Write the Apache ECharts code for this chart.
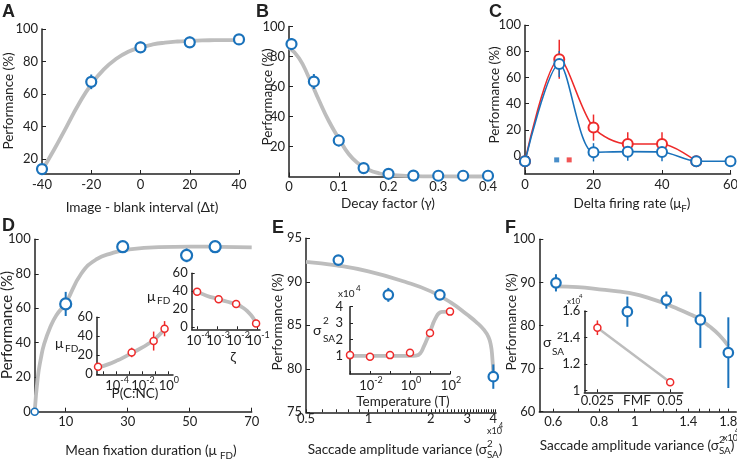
<!DOCTYPE html>
<html><head><meta charset="utf-8">
<script src="https://cdn.jsdelivr.net/npm/echarts@6/dist/echarts.min.js"></script>
<style>html,body{margin:0;padding:0;background:#fff}#c{width:737px;height:466px}</style>
</head><body><div id="c"></div>
<script>
// ---------- DATA ----------
// Panel A
const aX = [-40, -20, 0, 20, 40];
const aY = [13.8, 67.5, 88.7, 91.8, 93.6];
const aErr = [2.5, 4.5, 3.5, 3.5, 2.5];
const aFitX = [-40, -35, -30, -25, -20, -15, -10, -5, 0, 5, 10, 15, 20, 25, 30, 35, 40];
const aFitY = [13, 26, 40, 54, 66, 75, 81.5, 86, 88.7, 90.5, 91.6, 92.3, 92.7, 93, 93.1, 93.2, 93.2];
// Panel B
const bX = [0.005, 0.05, 0.1, 0.15, 0.2, 0.25, 0.3, 0.35, 0.4];
const bY = [88.3, 63.3, 24, 5.6, 1.8, 0.6, 0.5, 0.5, 0.5];
const bErr = [4, 5, 4, 1, 0.5, 0, 0, 0, 0];
const bFitX = [0, 0.02, 0.04, 0.06, 0.08, 0.1, 0.12, 0.14, 0.16, 0.18, 0.2, 0.25, 0.3, 0.4];
const bFitY = [86, 79, 66, 51, 37, 25.5, 15, 8.5, 4.5, 2.2, 1, 0.3, 0.1, 0];
// Panel C
const cX = [0, 10, 20, 30, 40, 50, 60];
const cBlue = [-4, 70.4, 2.8, 3.3, 3, -4, -4];
const cBlueErr = [0, 10, 7, 7, 7, 0, 0];
const cRedX = [0, 10, 20, 30, 40, 50];
const cRed = [-4, 74, 21.7, 9.2, 9.2, -4];
const cRedErr = [0, 15, 10, 9, 9, 0];
const cMarkX = [9.25, 12.9];
const cMarkY = [-3, -3];
// Panel D
const dX = [0, 10, 28.4, 49, 58.2];
const dY = [0, 62.5, 95.7, 90.7, 95.7];
const dErr = [0, 7, 1.5, 4, 1];
const dFitX = [0, 1, 2, 3, 5, 7, 10, 15, 20, 25, 30, 40, 50, 60, 70];
const dFitY = [0, 20, 31, 39, 49, 56, 63, 80, 88.5, 92, 94, 95.5, 95.8, 95.6, 95.3];
// Panel D inset 1 (P(C:NC))
const d1X = [4e-6, 1.6e-3, 0.08, 0.56];
const d1Y = [8, 23, 35, 48];
const d1Err = [1.5, 5, 10, 8];
const d1FitX = [4e-6, 3e-5, 1e-4, 3e-4, 1.5e-3, 1e-2, 3e-2, 8e-2, 0.2, 0.56];
const d1FitY = [7, 11, 14, 17, 22, 28, 32, 36, 41, 47];
// Panel D inset 2 (zeta)
const d2X = [1e-4, 1.2e-3, 9e-3, 9e-2];
const d2Y = [39.4, 31, 25.7, 4];
const d2FitX = [1e-4, 3e-4, 1e-3, 3e-3, 1e-2, 2e-2, 3.5e-2, 6e-2, 9e-2];
const d2FitY = [39.5, 35, 31.5, 28.5, 25, 21.5, 17, 11, 4];
// Panel E (x in units of 1e4)
const eX = [0.716, 1.247, 2.21, 4.0];
const eY = [92.5, 88.5, 88.5, 79.1];
const eErr = [0.3, 0.8, 0.3, 1.4];
const eFitX = [0.5, 0.7, 1, 1.5, 2, 2.5, 3, 3.3, 3.6, 3.8, 3.9, 3.95, 4.0];
const eFitY = [92.3, 91.9, 91.2, 90.0, 88.9, 87.6, 86.2, 85.4, 84.5, 83.6, 82.6, 81.5, 79.5];
// Panel E inset (temperature)
const eiX = [1e-3, 1e-2, 1e-1, 1, 10, 100];
const eiY = [1.05, 0.95, 1.05, 1.2, 2.4, 3.7];
const eiFitX = [1e-3, 1e-2, 0.1, 1, 2, 3.2, 5, 7, 10, 14, 20, 28, 40, 100];
const eiFitY = [1, 1, 1, 1, 1.02, 1.15, 1.6, 2.0, 2.45, 2.95, 3.35, 3.6, 3.68, 3.7];
// Panel F (x in units of 1e4)
const fX = [0.61, 0.955, 1.22, 1.51, 1.8];
const fY = [89.9, 83.2, 85.9, 81.3, 73.7];
const fErr = [2, 3.5, 2, 6.5, 8.2];
const fFitX = [0.61, 0.7, 0.8, 0.9, 1, 1.1, 1.2, 1.3, 1.4, 1.5, 1.6, 1.7, 1.8];
const fFitY = [89.1, 88.9, 88.4, 87.9, 87.3, 86.3, 85.2, 84.0, 82.8, 81.5, 79.8, 77.8, 75.3];
// Panel F inset (FMF)
const fiX = [0.025, 0.05];
const fiY = [1.474, 1.063];
const fiErr = [0.055, 0.025];
// tick labels
const eTickLabels = [0.5, 1, 2, 3, 4];
const eMinorTicks = [0.5,0.6,0.7,0.8,0.9,1,1.1,1.2,1.3,1.4,1.5,1.6,1.7,1.8,1.9,2,2.1,2.2,2.3,2.4,2.5,2.6,2.7,2.8,2.9,3,3.1,3.2,3.3,3.4,3.5,3.6,3.7,3.8,3.9,4,4.1];
const fTickLabels = [0.6, 0.8, 1, 1.4, 1.8];
const fMinorTicks = [0.6,0.7,0.8,0.9,1,1.1,1.2,1.3,1.4,1.5,1.6,1.7,1.8,1.9];
const d1Exps = [-4, -2, 0];
const d2Exps = [-4, -3, -2, -1];
const eiExps = [-2, 0, 2];

// ---------- STYLE ----------
const FONT = 'Lato';
const INK = '#222';
const BLUE = '#1a72bb';
const RED = '#ee2a2a';
const GRAY = '#bdbdbd';
const L = Math.log10;
const ID = v => v;

const ctx = document.createElement('canvas').getContext('2d');
function measure(t, size) { ctx.font = size + 'px ' + FONT; return ctx.measureText(t).width; }
function txt(x, y, t, size, extra) {
  return { type: 'text', x: x, y: y, silent: true,
    style: Object.assign({ text: t, fontSize: size, fontFamily: FONT, fill: INK, align: 'left', verticalAlign: 'middle' }, extra || {}) };
}
function mathLabel(x, y, parts, size, align) {
  const small = size * 0.72;
  const widths = parts.map(p => p.t != null ? measure(p.t, size) :
    Math.max(p.sup ? measure(p.sup, small) : 0, p.sub ? measure(p.sub, small) : 0));
  const total = widths.reduce((a, b) => a + b, 0);
  let cx = align === 'center' ? x - total / 2 : x;
  const els = [];
  parts.forEach((p, i) => {
    if (p.t != null) els.push(txt(cx, y, p.t, size));
    else {
      if (p.sup) els.push(txt(cx, y - size * 0.42, p.sup, small));
      if (p.sub) els.push(txt(cx, y + size * 0.38, p.sub, small));
    }
    cx += widths[i];
  });
  return els;
}
function supLabel(px, py, exp) {
  const w10 = measure('10', 13), ws = measure(String(exp), 9);
  const left = px - (w10 + ws) / 2 + 1;
  return [txt(left, py + 12, '10', 13), txt(left + w10, py + 6, String(exp), 9)];
}

const grids = [
  { left: 42, top: 29, width: 197, height: 145 },        // 0 A
  { left: 289, top: 26.5, width: 199, height: 150 },     // 1 B
  { left: 525, top: 25.3, width: 205.5, height: 148.7 }, // 2 C
  { left: 34.7, top: 239.3, width: 217, height: 172.4 }, // 3 D
  { left: 96.7, top: 317.3, width: 76.3, height: 57 },   // 4 D inset1
  { left: 191.7, top: 273.3, width: 68.3, height: 56 },  // 5 D inset2
  { left: 306, top: 238.3, width: 190, height: 174 },    // 6 E
  { left: 350, top: 306.7, width: 100, height: 67.3 },   // 7 E inset
  { left: 539.3, top: 239.3, width: 197, height: 172.4 },// 8 F
  { left: 584.3, top: 311, width: 98.4, height: 81.3 }   // 9 F inset
].map(g => Object.assign({ containLabel: false, outerBoundsMode: 'none' }, g));

const decFmt = v => String(+Math.pow(10, v).toFixed(2));

function axis(gi, o) {
  const a = {
    type: 'value', gridIndex: gi, min: o.min, max: o.max,
    axisLine: { show: true, onZero: false, lineStyle: { color: INK, width: 1.5 } },
    axisTick: { show: true, inside: true, length: o.tl || 4, lineStyle: { color: INK, width: 1 } },
    axisLabel: { show: !o.hideLabels, color: INK, fontSize: o.fs || 13, fontFamily: FONT, margin: o.margin == null ? 4 : o.margin },
    splitLine: { show: false }, splitArea: { show: false }
  };
  if (o.interval != null) a.interval = o.interval;
  if (o.labels) a.axisLabel.customValues = o.labels;
  if (o.ticks || o.labels) a.axisTick.customValues = o.ticks || o.labels;
  if (o.fmt) a.axisLabel.formatter = o.fmt;
  return a;
}

const xAxes = [
  axis(0, { min: -40, max: 40, interval: 20 }),
  axis(1, { min: 0, max: 0.4, interval: 0.1 }),
  axis(2, { min: 0, max: 60, interval: 20 }),
  axis(3, { min: 0, max: 70, labels: [10, 30, 50, 70] }),
  axis(4, { min: -5.5, max: 0.4, labels: d1Exps, ticks: [-5, -4, -3, -2, -1, 0], hideLabels: true, tl: 3 }),
  axis(5, { min: -4.27, max: -0.85, labels: d2Exps, hideLabels: true, tl: 3 }),
  axis(6, { min: L(0.5), max: L(0.5) + 190 / 207.4, labels: eTickLabels.map(L), ticks: eMinorTicks.map(L), hideLabels: true, tl: 3 }),
  axis(7, { min: -3, max: 2, labels: eiExps, ticks: [-3, -2, -1, 0, 1, 2], hideLabels: true, tl: 3 }),
  axis(8, { min: -95.4 / 366.8, max: 101.6 / 366.8, labels: fTickLabels.map(L), ticks: fMinorTicks.map(L), fmt: decFmt, tl: 3 }),
  axis(9, { min: 0.0205, max: 0.0543, labels: [0.025, 0.05], margin: 2, tl: 3 })
];
const yAxes = [
  axis(0, { min: 10.8, max: 100, labels: [20, 40, 60, 80, 100] }),
  axis(1, { min: 0, max: 100, labels: [20, 40, 60, 80, 100] }),
  axis(2, { min: -13.8, max: 100, labels: [0, 20, 40, 60, 80, 100] }),
  axis(3, { min: 0, max: 100, interval: 20 }),
  axis(4, { min: 0, max: 60, interval: 20, tl: 3 }),
  axis(5, { min: -2.57, max: 60, labels: [0, 20, 40, 60], tl: 3 }),
  axis(6, { min: 75, max: 95, interval: 5 }),
  axis(7, { min: -0.1, max: 4, labels: [1, 2, 3, 4], margin: 7, tl: 3 }),
  axis(8, { min: 60, max: 100, interval: 10 }),
  axis(9, { min: 0.988, max: 1.6, labels: [1, 1.2, 1.4, 1.6], tl: 3, fmt: v => (v === 1 ? '1' : v.toFixed(1)) })
];

function curve(gi, xs, ys, tx) {
  return { type: 'line', xAxisIndex: gi, yAxisIndex: gi, data: xs.map((x, i) => [tx(x), ys[i]]),
    smooth: 0.5, symbol: 'none', lineStyle: { color: GRAY, width: 3.8 }, z: 1, clip: false, silent: true, animation: false };
}
function pts(gi, xs, ys, tx, color, size, bw) {
  return { type: 'scatter', xAxisIndex: gi, yAxisIndex: gi, data: xs.map((x, i) => [tx(x), ys[i]]),
    symbol: 'circle', symbolSize: size, itemStyle: { color: '#fff', borderColor: color, borderWidth: bw, opacity: 1 },
    z: 5, clip: false, silent: true, animation: false };
}
function errs(gi, xs, ys, es, tx, color, w) {
  return { type: 'custom', xAxisIndex: gi, yAxisIndex: gi, z: 3, silent: true, clip: false, animation: false,
    data: xs.map((x, i) => [tx(x), ys[i] - es[i], ys[i] + es[i]]),
    renderItem: (params, api) => {
      const p1 = api.coord([api.value(0), api.value(1)]);
      const p2 = api.coord([api.value(0), api.value(2)]);
      return { type: 'line', shape: { x1: p1[0], y1: p1[1], x2: p2[0], y2: p2[1] }, style: { stroke: color, lineWidth: w } };
    } };
}
function cline(xs, ys, color, z) {
  return { type: 'line', xAxisIndex: 2, yAxisIndex: 2, data: xs.map((x, i) => [x, ys[i]]), smooth: 0.3,
    symbol: 'circle', symbolSize: 10, showAllSymbol: true,
    itemStyle: { color: '#fff', borderColor: color, borderWidth: 2 },
    lineStyle: { color: color, width: 1.6 }, z: z, clip: false, silent: true, animation: false };
}

const series = [
  curve(0, aFitX, aFitY, ID), errs(0, aX, aY, aErr, ID, BLUE, 2), pts(0, aX, aY, ID, BLUE, 10, 2.2),
  curve(1, bFitX, bFitY, ID), errs(1, bX, bY, bErr, ID, BLUE, 2), pts(1, bX, bY, ID, BLUE, 10, 2.2),
  errs(2, cRedX, cRed, cRedErr, ID, RED, 1.5), errs(2, cX, cBlue, cBlueErr, ID, BLUE, 1.5),
  cline(cRedX, cRed, RED, 4), cline(cX, cBlue, BLUE, 5),
  { type: 'scatter', xAxisIndex: 2, yAxisIndex: 2, data: [[cMarkX[0], cMarkY[0]]], symbol: 'rect', symbolSize: 5, itemStyle: { color: BLUE }, silent: true, animation: false },
  { type: 'scatter', xAxisIndex: 2, yAxisIndex: 2, data: [[cMarkX[1], cMarkY[1]]], symbol: 'rect', symbolSize: 5, itemStyle: { color: RED }, silent: true, animation: false },
  curve(3, dFitX, dFitY, ID), errs(3, dX, dY, dErr, ID, BLUE, 2), pts(3, dX.slice(1), dY.slice(1), ID, BLUE, 11, 2.2),
  pts(3, dX.slice(0, 1), dY.slice(0, 1), ID, BLUE, 7, 1.6),
  curve(4, d1FitX, d1FitY, L), errs(4, d1X, d1Y, d1Err, L, RED, 1.5), pts(4, d1X, d1Y, L, RED, 7, 1.5),
  curve(5, d2FitX, d2FitY, L), pts(5, d2X, d2Y, L, RED, 7, 1.5),
  curve(6, eFitX, eFitY, L), errs(6, eX, eY, eErr, L, BLUE, 2), pts(6, eX, eY, L, BLUE, 9.5, 2.2),
  curve(7, eiFitX, eiFitY, L), pts(7, eiX, eiY, L, RED, 7, 1.5),
  curve(8, fFitX, fFitY, L), errs(8, fX, fY, fErr, L, BLUE, 2), pts(8, fX, fY, L, BLUE, 9.5, 2.2),
  { type: 'line', xAxisIndex: 9, yAxisIndex: 9, data: fiX.map((x, i) => [x, fiY[i]]), symbol: 'none', lineStyle: { color: GRAY, width: 2.5 }, z: 1, silent: true, animation: false },
  errs(9, fiX, fiY, fiErr, ID, RED, 1.5), pts(9, fiX, fiY, ID, RED, 7, 1.5)
];

const letterStyle = { fontSize: 18, fontWeight: 'bold', fontFamily: 'Liberation Sans', verticalAlign: 'top' };
let graphics = [
  txt(2, 3, 'A', 18, letterStyle), txt(256, 3, 'B', 18, letterStyle), txt(489, 3, 'C', 18, letterStyle),
  txt(2, 217, 'D', 18, letterStyle), txt(272, 219, 'E', 18, letterStyle), txt(505, 219, 'F', 18, letterStyle),
  txt(142, 208, 'Image - blank interval (Δt)', 13.6, { align: 'center' }),
  txt(388, 204, 'Decay factor (γ)', 13.6, { align: 'center' }),
  txt(135, 394, 'P(C:NC)', 13.5, { align: 'center' }),
  txt(233, 357, 'ζ', 14, { align: 'center' }),
  txt(403, 402, 'Temperature (T)', 13.5, { align: 'center' }),
  txt(637, 401, 'FMF', 13.5, { align: 'center' }),
  // mu_FD labels
  txt(55, 343, 'μ', 14), txt(65, 349, 'FD', 10),
  txt(147, 296, 'μ', 14), txt(157, 301, 'FD', 10),
  // sigma^2_SA inset labels
  txt(313, 330, 'σ', 14), txt(323, 321, '2', 10), txt(323, 339, 'SA', 10),
  txt(543, 342, 'σ', 14), txt(557, 336, '2', 10), txt(552, 352, 'SA', 10),
  // x10^4 labels
  txt(338, 294, 'x10', 10), txt(356, 288, '4', 8),
  txt(487, 431, 'x10', 9), txt(499, 426, '4', 7),
  txt(567, 301, 'x10', 8), txt(579, 296, '4', 6),
  txt(723, 438, 'x10', 9), txt(735, 431, '4', 7)
];
[[9, 101, 13.5], [268, 97, 13.5], [495, 95, 13.5], [7, 325, 15], [278, 322, 13.5], [512, 322, 13.5]].forEach(p => {
  const t = txt(p[0], p[1], 'Performance (%)', p[2], { align: 'center' });
  t.rotation = Math.PI / 2; graphics.push(t);
});
graphics = graphics
  .concat(mathLabel(632, 204, [{ t: 'Delta firing rate (μ' }, { sub: 'F' }, { t: ')' }], 13.5, 'center'))
  .concat(mathLabel(151, 451, [{ t: 'Mean fixation duration (μ ' }, { sub: 'FD' }, { t: ')' }], 13.6, 'center'))
  .concat(mathLabel(405, 450, [{ t: 'Saccade amplitude variance (σ' }, { sup: '2', sub: 'SA' }, { t: ')' }], 13.6, 'center'))
  .concat(mathLabel(637, 446, [{ t: 'Saccade amplitude variance (σ' }, { sup: '2', sub: 'SA' }, { t: ')' }], 13.6, 'center'));

const chart = echarts.init(document.getElementById('c'), null, { renderer: 'canvas' });
chart.setOption({
  animation: false,
  backgroundColor: '#fff',
  grid: grids,
  xAxis: xAxes,
  yAxis: yAxes,
  series: series
});

// tick labels placed through the axes' own scales
const toPx = (gi, x, y) => chart.convertToPixel({ gridIndex: gi }, [x, y]);
const extra = [];
d1Exps.forEach(v => { const p = toPx(4, v, 0); extra.push(...supLabel(p[0], p[1], v)); });
d2Exps.forEach(v => { const p = toPx(5, v, -2.57); extra.push(...supLabel(p[0], p[1], v)); });
eiExps.forEach(v => { const p = toPx(7, v, -0.1); extra.push(...supLabel(p[0], p[1], v)); });
eTickLabels.forEach(v => { const p = toPx(6, L(v), 75); extra.push(txt(p[0], p[1] + 7, String(v), 13, { align: 'center' })); });

chart.setOption({ graphic: { elements: graphics.concat(extra) } });
</script></body></html>
